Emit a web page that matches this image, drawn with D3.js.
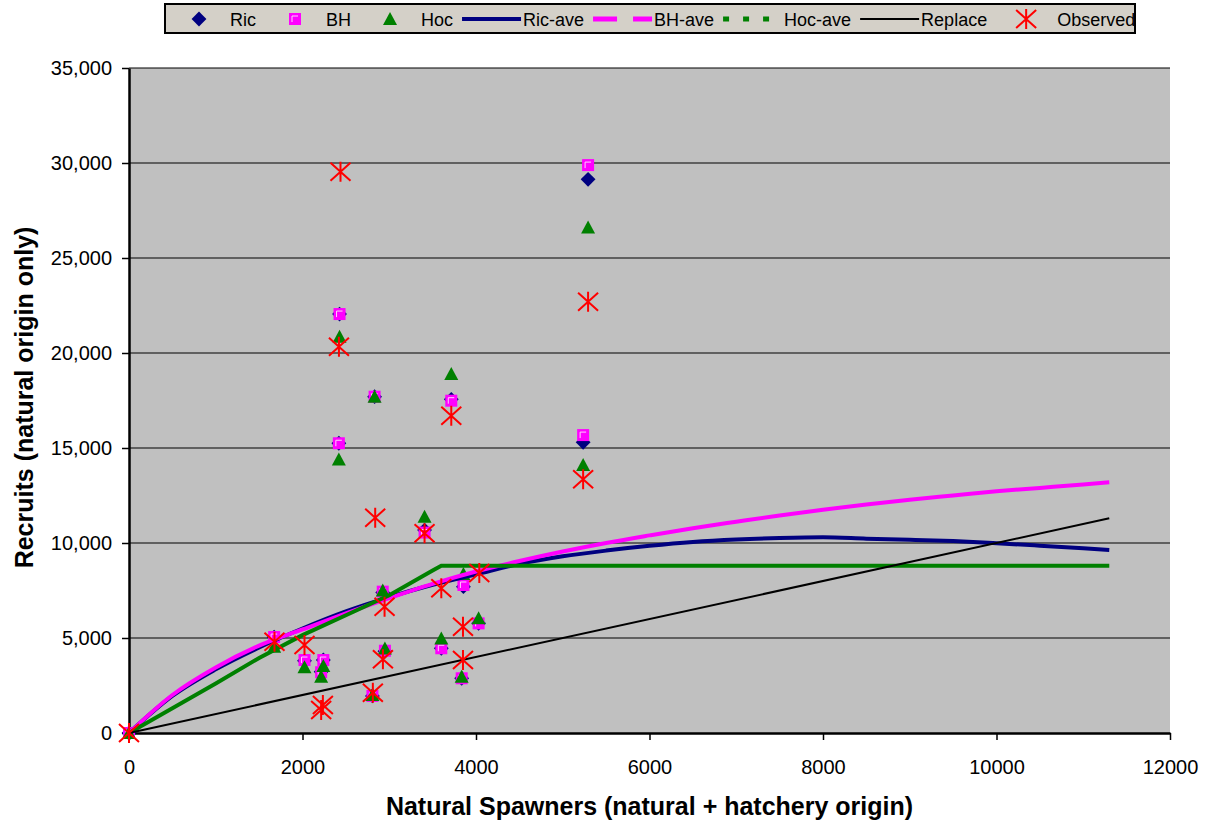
<!DOCTYPE html>
<html>
<head>
<meta charset="utf-8">
<script src="https://cdn.jsdelivr.net/npm/d3@7"></script>
<style>
  body { margin: 0; background: #fff; }
  text { font-family: "Liberation Sans", Arial, sans-serif; }
</style>
</head>
<body>
<script>
// predicted recruits for each brood year, by spawner count
var predSpawners = [0, 1673, 2023, 2240, 2215, 2806, 2950, 2925, 3600, 3835, 3855, 4030, 2419, 2427, 2831, 3407, 3715, 5235, 5292];
var ricPred = [0, 5050, 3800, 3840, 3230, 1950, 4300, 7400, 4460, 2880, 7700, 5770, 15250, 22050, 17700, 10680, 17560, 15300, 29140];
var bhPred  = [0, 5050, 3840, 3840, 3200, 1950, 4330, 7440, 4460, 2880, 7790, 5770, 15250, 22050, 17700, 10550, 17490, 15680, 29890];
var hocPred = [0, 4540, 3460, 3530, 2960, 2000, 4450, 7500, 4980, 2960, 8370, 6040, 14400, 20860, 17700, 11380, 18890, 14100, 26610];

// observed recruits
var obsSpawners = [0, 1677, 2023, 2235, 2215, 2811, 2838, 2927, 2946, 2438, 2420, 3407, 3600, 3715, 3850, 3850, 4038, 5235, 5292];
var obsRecruits = [0, 4800, 4630, 1470, 1210, 2120, 11330, 3880, 6650, 29540, 20330, 10510, 7620, 16700, 5590, 3840, 8420, 13350, 22700];

// average curves
var curveX = [0, 500, 1000, 1500, 2000, 2500, 3000, 3500, 4000, 4500, 5000, 5500, 6000, 6500, 7000, 7500, 8000, 8500, 9000, 9500, 10000, 10500, 11000, 11300];
var ricAve = [0, 1950, 3350, 4500, 5500, 6400, 7150, 7800, 8350, 8900, 9300, 9600, 9850, 10050, 10180, 10260, 10300, 10230, 10170, 10100, 9990, 9860, 9720, 9630];
var bhAve  = [0, 2000, 3450, 4600, 5450, 6300, 7100, 7850, 8500, 9050, 9550, 10000, 10400, 10780, 11120, 11450, 11750, 12030, 12280, 12500, 12720, 12900, 13080, 13200];
var hocX   = [0, 500, 1000, 1500, 2000, 2500, 3000, 3500, 3600, 11300];
var hocAve = [0, 1300, 2600, 3950, 5150, 6200, 7250, 8550, 8800, 8800];
var replaceX = [0, 11300];
var replaceY = [0, 11300];

var xTicks = [0, 2000, 4000, 6000, 8000, 10000, 12000];
var yTicks = [0, 5000, 10000, 15000, 20000, 25000, 30000, 35000];

var legendItems = ["Ric", "BH", "Hoc", "Ric-ave", "BH-ave", "Hoc-ave", "Replace", "Observed"];

var full_width = 1214, full_height = 823;
var plot = {left: 129, right: 1170, top: 68, bottom: 733};

var x = d3.scaleLinear().domain([0, 12000]).range([plot.left, plot.right]);
var y = d3.scaleLinear().domain([0, 35000]).range([plot.bottom, plot.top]);

var svg = d3.select("body").append("svg")
  .attr("width", full_width)
  .attr("height", full_height);

// plot area
svg.append("rect")
  .attr("x", plot.left).attr("y", plot.top)
  .attr("width", plot.right - plot.left)
  .attr("height", plot.bottom - plot.top)
  .attr("fill", "#c0c0c0");

// gridlines
svg.append("g").selectAll("line")
  .data(yTicks.slice(1))
  .enter().append("line")
  .attr("x1", plot.left).attr("x2", plot.right)
  .attr("y1", function(d) { return y(d); })
  .attr("y2", function(d) { return y(d); })
  .attr("stroke", "#000")
  .attr("stroke-width", 1);

// axes
var yAxis = svg.append("g")
  .attr("transform", "translate(" + plot.left + ",0)")
  .call(d3.axisLeft(y).tickValues(yTicks).tickFormat(d3.format(","))
    .tickSize(7).tickSizeOuter(0).tickPadding(10));

var xAxis = svg.append("g")
  .attr("transform", "translate(0," + plot.bottom + ")")
  .call(d3.axisBottom(x).tickValues(xTicks).tickFormat(d3.format("d"))
    .tickSize(7).tickSizeOuter(0).tickPadding(20));

[xAxis, yAxis].forEach(function(a) {
  a.select(".domain").attr("stroke", "#000").attr("stroke-width", 2.5);
  a.selectAll(".tick line").attr("stroke", "#000").attr("stroke-width", 1.5);
  a.selectAll(".tick text")
    .attr("fill", "#000")
    .style("font-family", '"Liberation Sans", Arial, sans-serif')
    .style("font-size", "20px");
});

// axis titles
svg.append("text")
  .attr("x", (plot.left + plot.right) / 2)
  .attr("y", 815)
  .attr("text-anchor", "middle")
  .style("font-size", "25px")
  .style("font-weight", "700")
  .text("Natural Spawners (natural + hatchery origin)");

svg.append("text")
  .attr("transform", "translate(33," + ((plot.top + plot.bottom) / 2 - 3) + ") rotate(-90)")
  .attr("text-anchor", "middle")
  .style("font-size", "25px")
  .style("font-weight", "700")
  .text("Recruits (natural origin only)");

// marker helpers
var drawDiamond = function(g, cx, cy) {
  g.append("path")
    .attr("d", d3.symbol(d3.symbolSquare, 110)())
    .attr("transform", "translate(" + cx + "," + cy + ") rotate(45)")
    .attr("fill", "#000080");
};
var drawSquare = function(g, cx, cy) {
  g.append("rect")
    .attr("x", cx - 6).attr("y", cy - 6)
    .attr("width", 12).attr("height", 12)
    .attr("fill", "#ff00ff");
  g.append("path")
    .attr("d", "M" + (cx - 3) + "," + (cy + 3) + "V" + (cy - 3) + "H" + (cx + 3))
    .attr("fill", "none")
    .attr("stroke", "#ffd0ff")
    .attr("stroke-width", 1);
};
var drawTriangle = function(g, cx, cy) {
  g.append("path")
    .attr("d", "M" + cx + "," + (cy - 7) + "L" + (cx + 7) + "," + (cy + 6) + "L" + (cx - 7) + "," + (cy + 6) + "Z")
    .attr("fill", "#008000");
};
var drawStar = function(g, cx, cy) {
  g.append("path")
    .attr("d", "M" + (cx - 10) + "," + (cy - 9) + "L" + (cx + 10) + "," + (cy + 9) +
               "M" + (cx + 10) + "," + (cy - 9) + "L" + (cx - 10) + "," + (cy + 9) +
               "M" + cx + "," + (cy - 10) + "V" + (cy + 10))
    .attr("fill", "none")
    .attr("stroke", "#ff0000")
    .attr("stroke-width", 2);
};

var marks = svg.append("g");

// predicted scatter series
var ricG = marks.append("g");
ricPred.forEach(function(v, i) { drawDiamond(ricG, x(predSpawners[i]), y(v)); });
var bhG = marks.append("g");
bhPred.forEach(function(v, i) { drawSquare(bhG, x(predSpawners[i]), y(v)); });
var hocG = marks.append("g");
hocPred.forEach(function(v, i) { drawTriangle(hocG, x(predSpawners[i]), y(v)); });

// average curves
var line = d3.line()
  .x(function(d) { return x(d[0]); })
  .y(function(d) { return y(d[1]); });

var curves = [
  {xs: curveX, ys: ricAve, color: "#000080", w: 4, curve: d3.curveMonotoneX},
  {xs: curveX, ys: bhAve, color: "#ff00ff", w: 4, curve: d3.curveMonotoneX},
  {xs: hocX, ys: hocAve, color: "#008000", w: 4, curve: d3.curveLinear},
  {xs: replaceX, ys: replaceY, color: "#000000", w: 2, curve: d3.curveLinear}
];
curves.forEach(function(c) {
  marks.append("path")
    .datum(c.xs.map(function(v, i) { return [v, c.ys[i]]; }))
    .attr("d", line.curve(c.curve))
    .attr("fill", "none")
    .attr("stroke", c.color)
    .attr("stroke-width", c.w);
});

// observed
var obsG = marks.append("g");
obsRecruits.forEach(function(v, i) { drawStar(obsG, x(obsSpawners[i]), y(v)); });

// legend
var legend = svg.append("g");
legend.append("rect")
  .attr("x", 165).attr("y", 4)
  .attr("width", 970).attr("height", 29)
  .attr("fill", "#d4d0c8")
  .attr("stroke", "#000")
  .attr("stroke-width", 2);

var legendStyles = [
  {kind: "marker", draw: drawDiamond},
  {kind: "marker", draw: drawSquare},
  {kind: "marker", draw: drawTriangle},
  {kind: "line", color: "#000080", w: 4, dash: null},
  {kind: "line", color: "#ff00ff", w: 5, dash: "24,16"},
  {kind: "line", color: "#008000", w: 5, dash: "6,14"},
  {kind: "line", color: "#000000", w: 2, dash: null},
  {kind: "marker", draw: drawStar}
];

var lx = 168, ly = 19;
legendItems.forEach(function(label, i) {
  var st = legendStyles[i];
  if (st.kind === "marker") {
    st.draw(legend, lx + 31, ly);
  } else {
    legend.append("line")
      .attr("x1", lx + 1).attr("x2", lx + 60)
      .attr("y1", ly).attr("y2", ly)
      .attr("stroke", st.color)
      .attr("stroke-width", st.w)
      .attr("stroke-dasharray", st.dash);
  }
  var t = legend.append("text")
    .attr("x", lx + 62)
    .attr("y", ly + 6.5)
    .style("font-size", "18px")
    .text(label);
  lx = lx + 62 + t.node().getComputedTextLength() + 8;
});
</script>
</body>
</html>
